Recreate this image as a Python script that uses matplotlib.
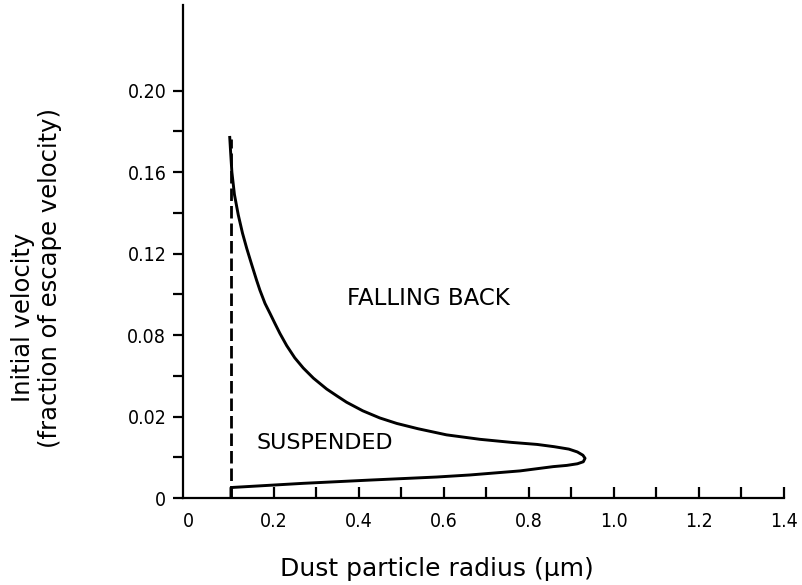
import matplotlib.pyplot as plt

# Boundary between suspended and falling-back dust grains
radius = [0.097, 0.099, 0.102, 0.108, 0.117, 0.127, 0.137, 0.148, 0.160, 0.168,
          0.180, 0.192, 0.203, 0.215, 0.231, 0.250, 0.270, 0.294, 0.325, 0.350,
          0.372, 0.410, 0.450, 0.490, 0.540, 0.607, 0.686, 0.760, 0.820, 0.860,
          0.895, 0.915, 0.928, 0.933, 0.929, 0.915, 0.890, 0.858, 0.780, 0.662,
          0.584, 0.427, 0.270, 0.105, 0.100, 0.100]
velocity = [0.177, 0.170, 0.160, 0.149, 0.139, 0.130, 0.1225, 0.115, 0.107, 0.102,
            0.0955, 0.0905, 0.0858, 0.0808, 0.0748, 0.0688, 0.0638, 0.0588, 0.0535, 0.0500,
            0.0470, 0.0428, 0.0393, 0.0366, 0.0340, 0.0310, 0.0288, 0.0273, 0.0263, 0.0252,
            0.0240, 0.0226, 0.0210, 0.0195, 0.0178, 0.0168, 0.0160, 0.0154, 0.0133, 0.0113,
            0.0103, 0.0088, 0.0072, 0.0052, 0.0050, 0.0]

# lower size limit (dashed)
cutoff_r = [0.100, 0.100]
cutoff_v = [0.0, 0.176]

y_ticks = [0, 0.02, 0.04, 0.06, 0.08, 0.10, 0.12, 0.14, 0.16, 0.18, 0.20]
y_labels = ['0', '', '0.02', '', '0.08', '', '0.12', '', '0.16', '', '0.20']
x_ticks = [0, 0.1, 0.2, 0.3, 0.4, 0.5, 0.6, 0.7, 0.8, 0.9, 1.0, 1.1, 1.2, 1.3, 1.4]
x_labels = ['0', '', '0.2', '', '0.4', '', '0.6', '', '0.8', '', '1.0', '', '1.2', '', '1.4']

plt.rcParams['font.family'] = ['DejaVu Sans']
plt.rcParams['font.stretch'] = 'condensed'

fig = plt.figure(figsize=(8.02, 5.85), dpi=100)
ax = fig.add_axes([183 / 802, 87 / 585, 600.5 / 802, 493 / 585])

ax.plot(radius, velocity, color='black', linewidth=2.1, solid_joinstyle='round')
ax.plot(cutoff_r, cutoff_v, color='black', linewidth=2.0, linestyle=(0, (4.5, 1.8)))

ax.set_xlim(-0.013, 1.4)
ax.set_ylim(0, 0.242)

for side in ['top', 'right']:
    ax.spines[side].set_visible(False)
for side in ['left', 'bottom']:
    ax.spines[side].set_linewidth(1.6)

ax.set_xticks(x_ticks)
ax.set_xticklabels(x_labels, fontsize=14)
ax.set_yticks(y_ticks)
ax.set_yticklabels(y_labels, fontsize=14)
ax.tick_params(axis='x', direction='in', length=8, width=1.6, pad=10)
ax.tick_params(axis='y', direction='out', length=7, width=1.6, pad=5)
ax.xaxis.get_major_ticks()[0].tick1line.set_visible(False)

# region names and axis titles in the wider face
ax.text(0.564, 0.098, 'FALLING BACK', fontsize=16.5, fontstretch='normal',
        ha='center', va='center')
ax.text(0.321, 0.0268, 'SUSPENDED', fontsize=16, fontstretch='normal',
        ha='center', va='center')

fig.text(437 / 802, 1 - 569 / 585, 'Dust particle radius (\u03bcm)', fontsize=18,
         fontstretch='normal', ha='center', va='center')
fig.text(23 / 802, 1 - 317 / 585, 'Initial velocity', fontsize=17.5,
         fontstretch='normal', rotation=90, ha='center', va='center')
fig.text(50 / 802, 1 - 278 / 585, '(fraction of escape velocity)', fontsize=17.5,
         fontstretch='normal', rotation=90, ha='center', va='center')

fig.savefig('out.png', dpi=100)
